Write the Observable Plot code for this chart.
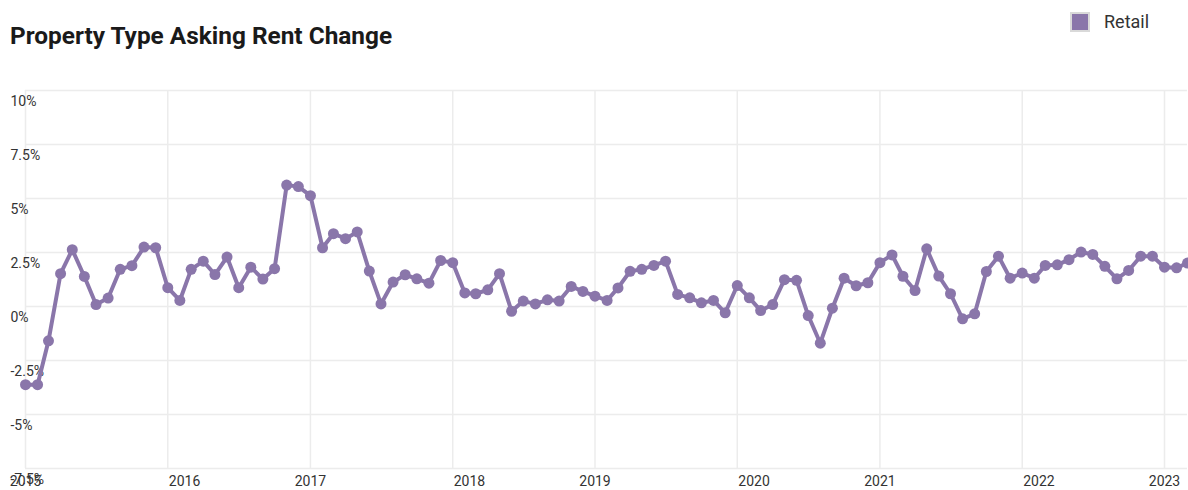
<!DOCTYPE html>
<html>
<head>
<meta charset="utf-8">
<script src="https://cdn.jsdelivr.net/npm/d3@7"></script>
<script src="https://cdn.jsdelivr.net/npm/@observablehq/plot@0.6"></script>
<style>
  body { margin: 0; background: #fff; font-family: Roboto, sans-serif; }
  #wrap { position: relative; width: 1188px; height: 490px; overflow: hidden; }
  #header { position: relative; height: 80px; }
  #title { position: absolute; left: 10px; top: 22px; font-size: 24.4px; font-weight: 700; color: #1a1a1a; line-height: 28px; }
  #legend { position: absolute; left: 1070px; top: 11px; display: flex; align-items: center; font-size: 18px; color: #333; }
  .sw { width: 16px; height: 16px; background: #8a76aa; border: 2px solid #d9d9d9; margin-right: 14px; box-sizing: content-box; }
</style>
</head>
<body>
<div id="wrap">
  <div id="header">
    <div id="title">Property Type Asking Rent Change</div>
    <div id="legend"><div class="sw"></div><span>Retail</span></div>
  </div>
  <div id="chart"></div>
</div>
<script>
// Monthly series, Jan 2015 – Mar 2023 (percent)
const seriesName = "Retail";
const startDate = "2015-01-01";
const retailValues = [
  -3.62, -3.62, -1.59, 1.52, 2.63, 1.39, 0.09, 0.39, 1.72, 1.89, 2.75, 2.72,
  0.87, 0.28, 1.72, 2.10, 1.48, 2.29, 0.87, 1.82, 1.27, 1.75, 5.62, 5.55,
  5.13, 2.72, 3.37, 3.14, 3.45, 1.64, 0.12, 1.13, 1.47, 1.28, 1.08, 2.13,
  2.03, 0.63, 0.59, 0.77, 1.52, -0.22, 0.25, 0.12, 0.31, 0.25, 0.93, 0.70,
  0.48, 0.28, 0.86, 1.63, 1.72, 1.90, 2.10, 0.56, 0.40, 0.17, 0.28, -0.29,
  0.97, 0.40, -0.19, 0.09, 1.24, 1.21, -0.42, -1.70, -0.08, 1.31, 0.96, 1.10,
  2.03, 2.39, 1.40, 0.74, 2.67, 1.41, 0.59, -0.57, -0.34, 1.62, 2.33, 1.31,
  1.55, 1.31, 1.90, 1.93, 2.17, 2.52, 2.41, 1.86, 1.28, 1.67, 2.33, 2.33,
  1.82, 1.79, 2.01
];
const yTickValues = [-7.5, -5, -2.5, 0, 2.5, 5, 7.5, 10];
const xTickYears = [2015, 2016, 2017, 2018, 2019, 2020, 2021, 2022, 2023];

const lineColor = "#8a76aa";
const gridColor = "#ececec";

const start = new Date(startDate + "T00:00:00Z");
const data = retailValues.map((v, i) => ({ date: d3.utcMonth.offset(start, i), value: v, series: seriesName }));
const xTicks = xTickYears.map(y => new Date(Date.UTC(y, 0, 1)));
const oddTicks = xTicks.filter(d => d.getUTCFullYear() % 2 === 1);
const evenTicks = xTicks.filter(d => d.getUTCFullYear() % 2 === 0);

const chart = Plot.plot({
  width: 1188,
  height: 410,
  marginTop: 10,
  marginBottom: 22,
  marginLeft: 25,
  marginRight: 1,
  style: { fontFamily: "Roboto, sans-serif", fontSize: "14px", color: "#333", background: "#fff", overflow: "visible" },
  x: { type: "utc", domain: [data[0].date, data[data.length - 1].date], label: null },
  y: { domain: [-7.5, 10], label: null },
  marks: [
    Plot.gridY(yTickValues, { stroke: gridColor, strokeOpacity: 1, strokeWidth: 1.5 }),
    Plot.gridX(xTicks, { stroke: gridColor, strokeOpacity: 1, strokeWidth: 1.5 }),
    Plot.axisY(yTickValues, { tickSize: 0, tickPadding: 0, textAnchor: "start", dx: -15, dy: 11, tickFormat: d => `${d}%`, fill: "#333", label: null }),
    Plot.axisX(oddTicks, { tickSize: 0, tickPadding: 8, tickFormat: d => String(d.getUTCFullYear()), textAnchor: "middle", fill: "#333", label: null }),
    Plot.axisX(evenTicks, { tickSize: 0, tickPadding: 8, tickFormat: d => String(d.getUTCFullYear()), textAnchor: "start", dx: 1, fill: "#333", label: null }),
    Plot.lineY(data, { x: "date", y: "value", stroke: lineColor, strokeWidth: 4 }),
    Plot.dot(data, { x: "date", y: "value", r: 5.5, fill: lineColor, stroke: null })
  ]
});
chart.style.display = "block";
document.getElementById("chart").appendChild(chart);
</script>
</body>
</html>
